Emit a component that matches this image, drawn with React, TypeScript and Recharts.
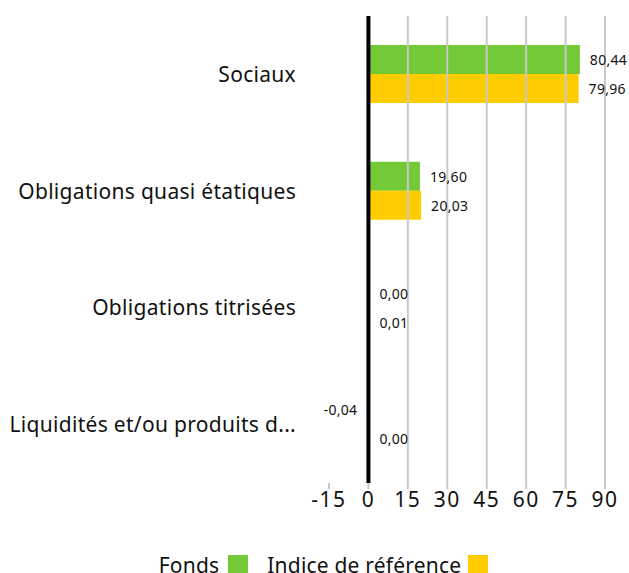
import React from 'react'
import {
  BarChart,
  Bar,
  XAxis,
  YAxis,
  ReferenceLine,
  LabelList,
  Legend,
} from 'recharts'

// Données
const categories = [
  'Sociaux',
  'Obligations quasi étatiques',
  'Obligations titrisées',
  'Liquidités et/ou produits d...',
]
const fondsValues = [80.44, 19.6, 0.0, -0.04]
const indiceValues = [79.96, 20.03, 0.01, 0.0]
const xTicks = [-15, 0, 15, 30, 45, 60, 75, 90]
const gridValues = [15, 30, 45, 60, 75, 90]

const data = categories.map((name, i) => ({
  name,
  fonds: fondsValues[i],
  indice: indiceValues[i],
}))

const green = '#74c936'
const yellow = '#ffcc00'
const font = '"Noto Sans", sans-serif'

const fmt = (v: number) => v.toFixed(2).replace('.', ',')

// étiquette de valeur : à droite de la barre, à gauche si négative
const ValueLabel = (props: any) => {
  const { x, y, width, height, value } = props
  const neg = value < 0
  return (
    <text
      x={neg ? x + Math.min(width, 0) - 10 : x + width + 10}
      y={y + height / 2}
      textAnchor={neg ? 'end' : 'start'}
      dominantBaseline="central"
      fontSize={14}
      letterSpacing={0.3}
      fontFamily={font}
      fill="#111"
    >
      {fmt(value)}
    </text>
  )
}

const CustomLegend = () => (
  <div
    style={{
      display: 'flex',
      justifyContent: 'center',
      alignItems: 'center',
      fontFamily: font,
      fontSize: 21,
      letterSpacing: 0.2,
      color: '#111',
      height: 30,
      paddingLeft: 42,
    }}
  >
    <span>Fonds</span>
    <span style={{ display: 'inline-block', width: 20, height: 20, background: green, marginLeft: 9, marginRight: 19 }} />
    <span>Indice de référence</span>
    <span style={{ display: 'inline-block', width: 20, height: 20, background: yellow, marginLeft: 7 }} />
  </div>
)

export default function App() {
  return (
    <div style={{ position: 'absolute', left: 0, top: 0, width: 629, height: 573, overflow: 'hidden', background: '#fff' }}>
      <BarChart
        width={629}
        height={590}
        data={data}
        layout="vertical"
        margin={{ top: 16, right: 24, bottom: 10, left: 0 }}
        barSize={29}
        barGap={0}
      >
        {gridValues.map((v) => (
          <ReferenceLine key={v} x={v} stroke="#c8c8c8" strokeWidth={2} />
        ))}
        <XAxis
          type="number"
          domain={[-15, 90]}
          ticks={xTicks}
          interval={0}
          axisLine={false}
          tickLine={{ stroke: '#c8c8c8', strokeWidth: 2 }}
          tickSize={6}
          tickMargin={3}
          height={67}
          tick={{ fontSize: 21, fill: '#111', fontFamily: font, letterSpacing: 1.5 }}
        />
        <YAxis
          type="category"
          dataKey="name"
          width={329}
          axisLine={false}
          tickLine={false}
          tickSize={0}
          tickMargin={33}
          tick={{ fontSize: 21, fill: '#111', fontFamily: font, letterSpacing: 0.3 }}
        />
        <Legend verticalAlign="bottom" content={<CustomLegend />} />
        <Bar dataKey="fonds" fill={green} minPointSize={1} isAnimationActive={false}>
          <LabelList dataKey="fonds" content={<ValueLabel />} />
        </Bar>
        <Bar dataKey="indice" fill={yellow} minPointSize={1} isAnimationActive={false}>
          <LabelList dataKey="indice" content={<ValueLabel />} />
        </Bar>
        <ReferenceLine x={0} stroke="#000" strokeWidth={4} />
      </BarChart>
    </div>
  )
}
